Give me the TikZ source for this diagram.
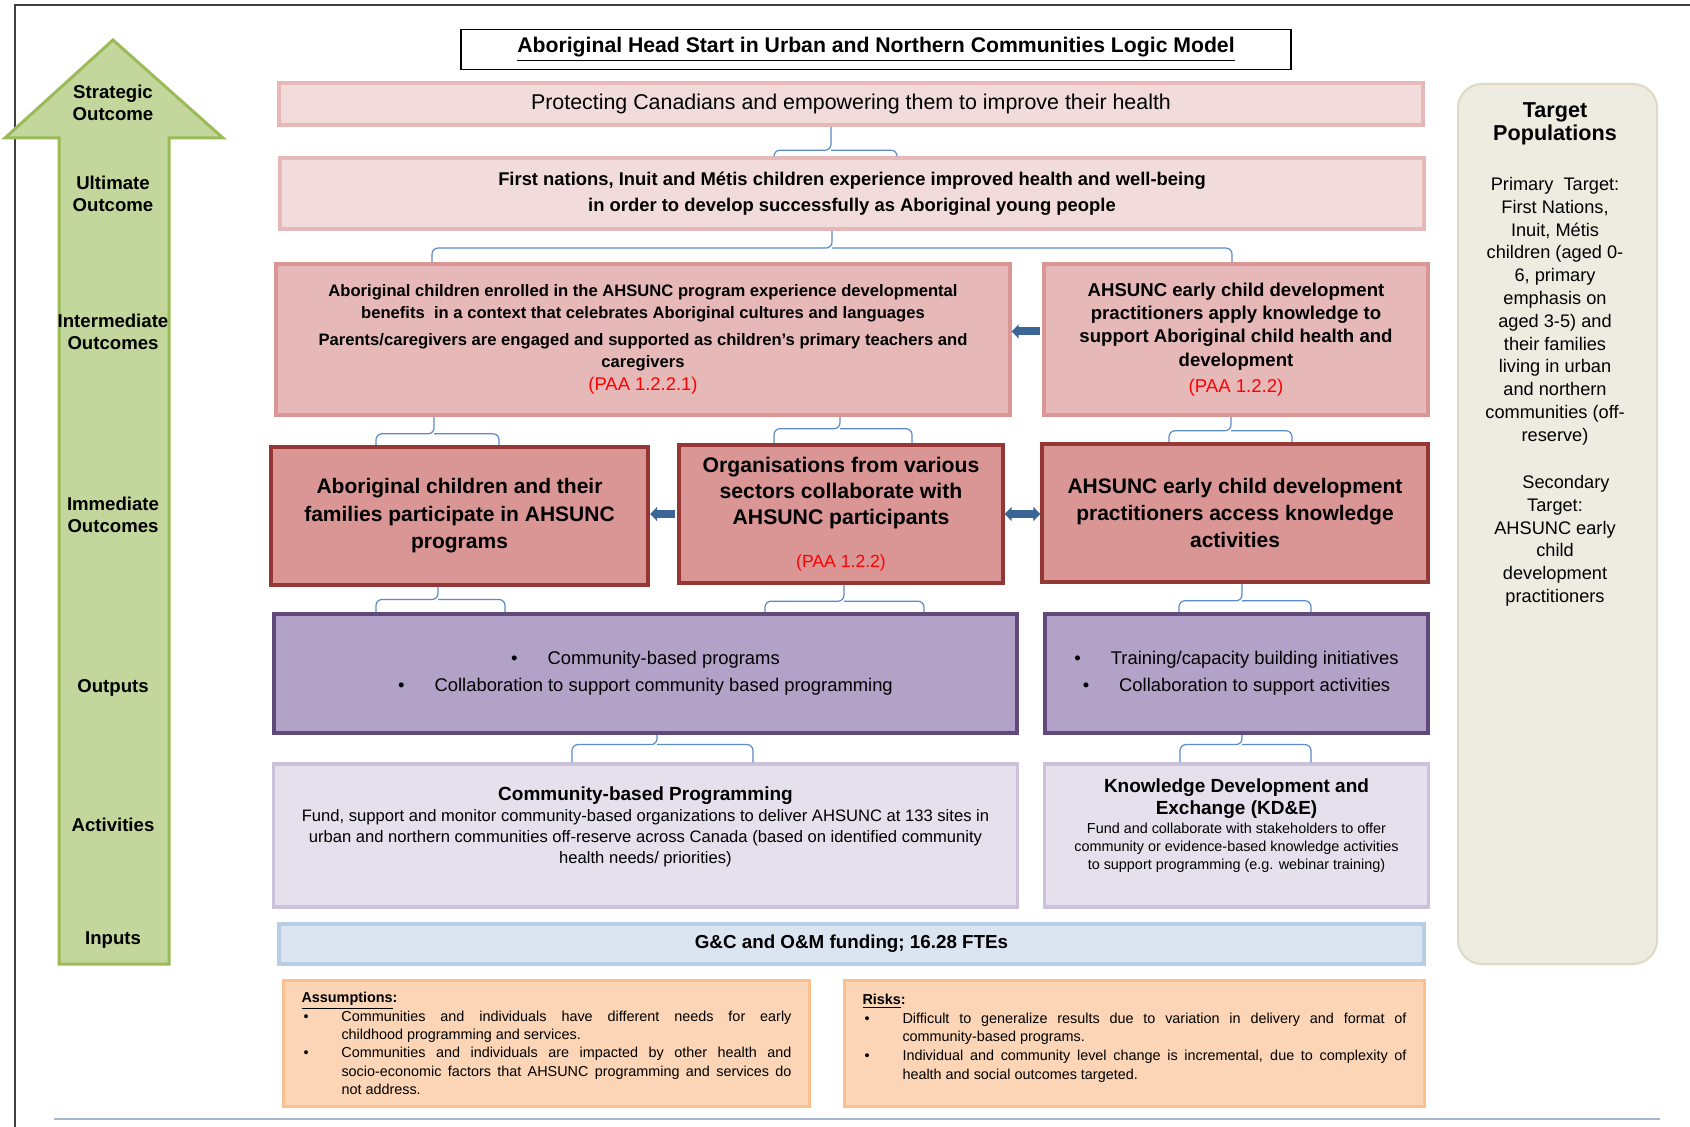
\documentclass[tikz,border=0pt]{standalone}
\usepackage{fontspec}
\setmainfont{Liberation Sans}
\usetikzlibrary{arrows.meta, positioning, calc}

\definecolor{arrowgreen}{HTML}{C3D69B}
\definecolor{arrowedge}{HTML}{9BBB59}
\definecolor{pinkfill}{HTML}{F2DCDB}
\definecolor{pinkedge}{HTML}{E6B9B8}
\definecolor{rosefill}{HTML}{E6B9B8}
\definecolor{roseedge}{HTML}{D99694}
\definecolor{redfill}{HTML}{D99694}
\definecolor{rededge}{HTML}{953735}
\definecolor{purplefill}{HTML}{B3A2C7}
\definecolor{purpleedge}{HTML}{604A7B}
\definecolor{lilacfill}{HTML}{E5E0EC}
\definecolor{lilacedge}{HTML}{CCC1DA}
\definecolor{bluefill}{HTML}{DBE5F1}
\definecolor{blueedge}{HTML}{B9CDE5}
\definecolor{peachfill}{HTML}{FBD5B5}
\definecolor{peachedge}{HTML}{FAC090}
\definecolor{beigefill}{HTML}{EEECE1}
\definecolor{beigeedge}{HTML}{DDD9C3}
\definecolor{bracecol}{HTML}{5B8BC9}
\definecolor{blockcol}{HTML}{3B6597}
\definecolor{framecol}{HTML}{404040}
\definecolor{rulecol}{HTML}{A6B6CC}

\newcommand{\setfs}[2]{\fontsize{#1}{#2}\selectfont}

\tikzset{
  titlebox/.style={draw=black, line width=0.6pt, fill=white, minimum width=415pt, minimum height=20pt, font=\bfseries\setfs{10.6}{12}},
  stratbox/.style={draw=pinkedge, fill=pinkfill, line width=2pt, align=flush center},
  intbox/.style={draw=roseedge, fill=rosefill, line width=2pt, align=flush center},
  immbox/.style={draw=rededge, fill=redfill, line width=2pt, align=flush center},
  outbox/.style={draw=purpleedge, fill=purplefill, line width=2pt, align=flush center},
  actbox/.style={draw=lilacedge, fill=lilacfill, line width=1.6pt, align=flush center},
  inpbox/.style={draw=blueedge, fill=bluefill, line width=2pt, align=flush center},
  riskbox/.style={draw=peachedge, fill=peachfill, line width=1.6pt, align=justify},
  lvl/.style={font=\bfseries\setfs{9.3}{11.3}, align=center},
  brk/.style={draw=bracecol, line width=0.6pt, rounded corners=3pt},
  blk/.style={draw=blockcol, line width=4pt, -{Triangle[length=3.5pt,width=7pt]}, shorten <=1pt},
  dblk/.style={draw=blockcol, line width=4pt, {Triangle[length=3.5pt,width=7pt]}-{Triangle[length=3.5pt,width=7pt]}}
}

% bracket: upper node, lower node, tip x, left x, right x, height of the bar
\newcommand{\brk}[6]{%
  \coordinate (bm) at ($(#1.south)!#6!(#2.north)$);
  \draw[brk] (#4,0 |- #2.north) -- (#4,0 |- bm) -- (#3,0 |- bm) -- (#3,0 |- #1.south);
  \draw[brk] (#5,0 |- #2.north) -- (#5,0 |- bm) -- (#3,0 |- bm);
}

\newcommand{\asmitem}{\par\hangindent=20pt\hangafter=1\noindent\makebox[20pt][l]{\hspace{1pt}\textbullet}}

\begin{document}
\begin{tikzpicture}[x=0.5pt, y=-0.5pt]
  \useasboundingbox (0,0) rectangle (1690,1127);

  % frame
  \draw[framecol, line width=1pt] (1690,5) -- (15,5) -- (15,1127);
  \draw[rulecol, line width=0.8pt] (54,1119) -- (1660,1119);

  % green arrow
  \draw[arrowedge, fill=arrowgreen, line width=1.5pt] (113,40) -- (223,138) -- (169,138) -- (169,964)
    -- (59,964) -- (59,138) -- (5,138) -- cycle;
  \node[lvl] (lstrat) at (113,103) {Strategic\\Outcome};
  \node[lvl] (lult) at (113,194) {Ultimate\\Outcome};
  \node[lvl] (lint) at (113,332) {Intermediate\\Outcomes};
  \node[lvl] (limm) at (113,515) {Immediate\\Outcomes};
  \node[lvl] (lout) at (113,688) {Outputs};
  \node[lvl] (lact) at (113,825) {Activities};
  \node[lvl] (linp) at (113,940) {Inputs};

  % title
  \node[titlebox] (title) at (876,49.5) {\underline{Aboriginal Head Start in Urban and Northern Communities Logic Model}};

  % outcomes
  \node[stratbox, minimum width=572pt, minimum height=21pt, font=\setfs{10.7}{12}] (strat) at (851,104)
    {Protecting Canadians and empowering them to improve their health};
  \node[stratbox, minimum width=572pt, minimum height=35.5pt, text width=560pt, font=\bfseries\setfs{9.2}{13}] (ult) at (852,193.5)
    {First nations, Inuit and Métis children experience improved health and well-being\\
     in order to develop successfully as Aboriginal young people};

  \node[intbox, minimum width=364pt, minimum height=75.5pt, text width=360pt, font=\bfseries\setfs{8.3}{10.8}] (intL) at (643,339.5)
    {Aboriginal children enrolled in the AHSUNC program experience developmental\\
     benefits \ in a context that celebrates Aboriginal cultures and languages\\[3pt]
     Parents/caregivers are engaged and supported as children’s primary teachers and\\
     caregivers\\[1pt]
     {\mdseries\setfs{9.2}{11}\color{red}(PAA 1.2.2.1)}};
  \node[intbox, minimum width=187pt, minimum height=75.5pt, text width=185pt, font=\bfseries\setfs{9.3}{11.6}] (intR) at (1236,339.5)
    {AHSUNC early child development\\
     practitioners apply knowledge to\\
     support Aboriginal child health and\\
     development\\[1.4pt]
     {\mdseries\setfs{9.3}{11}\color{red}(PAA 1.2.2)}};

  \node[immbox, minimum width=184.5pt, minimum height=69pt, text width=182pt, font=\bfseries\setfs{10.5}{13.7}] (immL) at (459.5,516)
    {Aboriginal children and their\\families participate in AHSUNC\\programs};
  \node[immbox, minimum width=157pt, minimum height=69pt, text width=155pt, font=\bfseries\setfs{10.6}{12.9}] (immM) at (841,514)
    {Organisations from various\\sectors collaborate with\\AHSUNC participants\\[8.7pt]
     {\mdseries\setfs{8.8}{11}\color{red}(PAA 1.2.2)}};
  \node[immbox, minimum width=188pt, minimum height=69pt, text width=186pt, font=\bfseries\setfs{10.5}{13.7}] (immR) at (1235,513)
    {AHSUNC early child development\\practitioners access knowledge\\activities};

  % outputs
  \node[outbox, minimum width=371.5pt, minimum height=59.5pt, text width=365pt, font=\setfs{9.2}{13.5}] (outL) at (645.5,673.5)
    {\textbullet\hspace{15pt}Community-based programs\\
     \textbullet\hspace{15pt}Collaboration to support community based programming};
  \node[outbox, minimum width=187.5pt, minimum height=59.5pt, text width=185pt, font=\setfs{9.2}{13.5}] (outR) at (1236.5,673.5)
    {\textbullet\hspace{15pt}Training/capacity building initiatives\\
     \textbullet\hspace{15pt}Collaboration to support activities};

  % activities
  \node[actbox, minimum width=371.5pt, minimum height=71.5pt, text width=365pt, font=\setfs{8.3}{10.5}] (actL) at (645.5,835.5)
    {{\bfseries\setfs{9.5}{11}Community-based Programming}\\
     Fund, support and monitor community-based organizations to deliver AHSUNC at 133 sites in\\
     urban and northern communities off-reserve across Canada (based on identified community\\
     health needs/ priorities)\\ \mbox{}};
  \node[actbox, minimum width=187.5pt, minimum height=71.5pt, text width=185pt, font=\bfseries\setfs{9.5}{11.3}] (actR) at (1236.5,835.5)
    {Knowledge Development and\\
     Exchange (KD\&E)\\
     \mdseries\setfs{7.2}{9.2}Fund and collaborate with stakeholders to offer\\
     community or evidence-based knowledge activities\\
     to support programming (e.g. webinar training)\\ \mbox{}};

  % inputs
  \node[inpbox, minimum width=572.5pt, minimum height=20pt, font=\bfseries\setfs{9.4}{11}] (inp) at (851.5,944)
    {G\&C and O\&M funding; 16.28 FTEs};

  % assumptions and risks
  \node[riskbox, minimum width=263pt, minimum height=63pt, text width=245pt, font=\setfs{7.2}{9.15}] (asm) at (546.5,1043.5)
    {\noindent{\bfseries\underline{Assumptions}:}
     \asmitem Communities and individuals have different needs for early\linebreak childhood programming and services.
     \asmitem Communities and individuals are impacted by other health and\linebreak socio-economic factors that AHSUNC programming and services do\linebreak not address.\par};
  \node[riskbox, minimum width=290pt, minimum height=63pt, text width=272pt, font=\setfs{7.2}{9.3}] (rsk) at (1134.5,1043.5)
    {\noindent{\bfseries\underline{Risks}:}
     \asmitem Difficult to generalize results due to variation in delivery and format of\linebreak community-based programs.
     \asmitem Individual and community level change is incremental, due to complexity of\linebreak health and social outcomes targeted.\par
     \nointerlineskip\noindent\rule{0pt}{5.4pt}\par};

  % target populations
  \node[draw=beigeedge, fill=beigefill, line width=1pt, rounded corners=12pt, minimum width=99.5pt, minimum height=440pt] (tgt) at (1557.5,524) {};
  \node[anchor=north, inner sep=0pt, align=center, font=\setfs{9.1}{11.4}] (tgttext) at (1555,102)
    {{\bfseries\setfs{10.8}{12.4}Target}\\
     {\bfseries\setfs{10.8}{12.4}Populations}\\[13.8pt]
     Primary \ Target:\\First Nations,\\Inuit, Métis\\children (aged 0-\\6, primary\\emphasis on\\aged 3-5) and\\their families\\living in urban\\and northern\\communities (off-\\reserve)\\[12.2pt]
     \hspace{1.2em}Secondary\\Target:\\AHSUNC early\\child\\development\\practitioners};

  % brackets
  \brk{strat}{ult}{831}{774}{897}{0.8}
  \brk{ult}{intL}{832}{432}{1232}{0.55}
  \brk{intL}{immL}{434}{376}{499}{0.6}
  \brk{intL}{immM}{840}{774}{912}{0.45}
  \brk{intR}{immR}{1231}{1169}{1292}{0.55}
  \brk{immL}{outL}{438}{376}{505}{0.5}
  \brk{immM}{outL}{844}{765}{924}{0.6}
  \brk{immR}{outR}{1242}{1179}{1311}{0.6}
  \brk{outL}{actL}{657}{572}{753}{0.35}
  \brk{outR}{actR}{1242}{1180}{1311}{0.35}

  % block arrows
  \draw[blk] ([yshift=4pt]intR.west) -- ([yshift=4pt]intR.west -| intL.east);
  \draw[blk] (immM.west) -- (immM.west -| immL.east);
  \draw[dblk] (immM.east) -- (immM.east -| immR.west);
\end{tikzpicture}
\end{document}
